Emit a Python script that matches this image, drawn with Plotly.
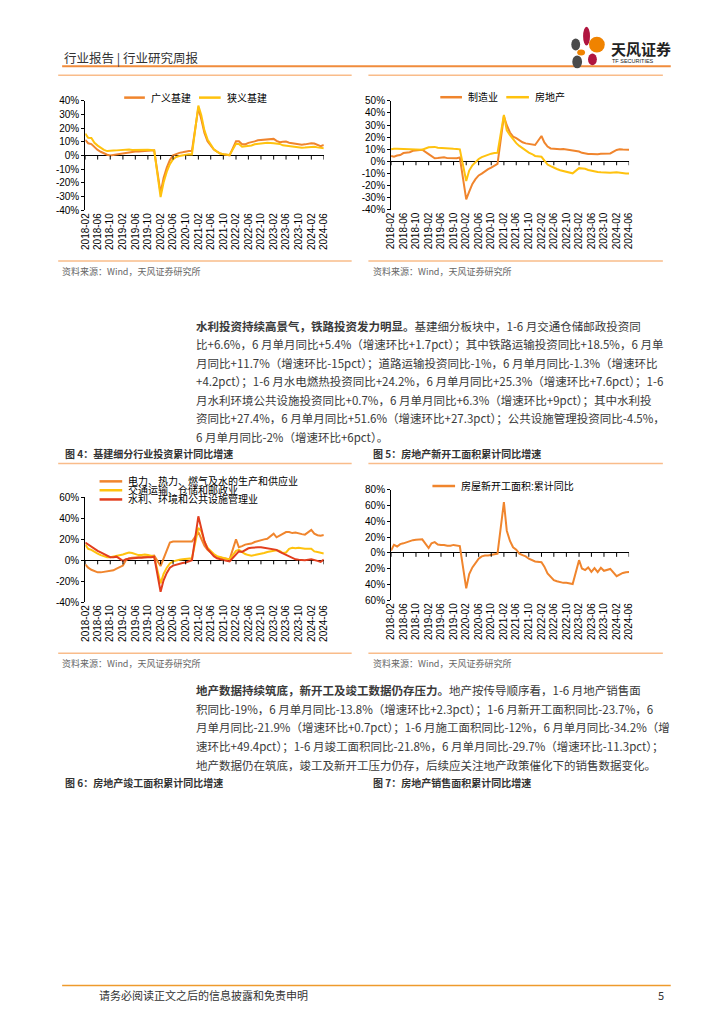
import pandas as pd
import plotly.graph_objects as go

W, H = 724, 1024

# ---------------- data ----------------
months = [d.strftime("%Y-%m-%d") for d in pd.date_range("2018-02-01", "2024-06-01", freq="MS") if d.month != 1]
tick_dates = [d.strftime("%Y-%m-%d") for d in pd.date_range("2018-02-01", "2024-06-01", freq="4MS")]
tick_labels = [d[:7] for d in tick_dates]

# Chart 1: 广义基建 / 狭义基建
broad_infra = ([11.5, 9.0, 8.4, 6.0, 4.1, 2.8, 1.6, 0.6, 0.0, 0.4, 1.0]
               + [1.7, 2.0, 2.2, 2.5, 2.9, 3.0, 3.2, 3.5, 3.9, 3.9, 3.9]
               + [-27.5, -16.4, -8.8, -3.3, 0.1, 1.2, 2.0, 2.4, 3.0, 3.3, 3.4]
               + [35.0, 26.8, 16.6, 10.4, 7.1, 4.4, 2.9, 1.5, 1.0, 0.5, 0.2]
               + [10.5, 10.5, 8.3, 8.2, 9.3, 9.6, 10.4, 11.2, 11.4, 11.6, 11.5]
               + [12.2, 10.8, 9.8, 10.1, 10.2, 9.4, 9.0, 8.6, 8.3, 8.0, 8.2]
               + [9.0, 8.8, 7.8, 6.8, 7.7])
narrow_infra = ([16.1, 13.0, 12.9, 9.4, 7.3, 5.7, 4.2, 3.3, 3.7, 3.7, 3.8]
                + [4.3, 4.4, 4.4, 4.0, 4.1, 3.8, 4.2, 4.5, 4.2, 4.0, 3.8]
                + [-30.3, -19.7, -11.8, -6.3, -2.7, -1.0, -0.3, 0.2, 0.7, 1.0, 0.9]
                + [36.6, 29.7, 18.4, 11.8, 7.8, 4.6, 2.9, 1.5, 1.0, 0.5, 0.4]
                + [8.6, 8.5, 6.5, 6.7, 7.1, 7.4, 8.3, 8.6, 8.7, 8.9, 9.4]
                + [9.0, 8.8, 8.5, 7.5, 7.2, 6.8, 6.4, 6.2, 5.9, 5.8, 5.9]
                + [6.3, 6.5, 6.0, 5.7, 5.4])

# Chart 2: 制造业 / 房地产
manufacturing = ([4.3, 3.8, 4.8, 5.2, 6.8, 7.3, 7.5, 8.7, 9.1, 9.5, 9.5]
                 + [5.9, 4.6, 2.5, 2.7, 3.0, 3.3, 2.6, 2.5, 2.6, 2.5, 3.1]
                 + [-31.5, -25.2, -18.8, -14.8, -11.7, -10.2, -8.1, -6.5, -5.3, -3.5, -2.2]
                 + [37.3, 29.8, 23.8, 20.4, 19.2, 17.3, 15.7, 14.8, 14.2, 13.7, 13.5]
                 + [20.9, 15.6, 12.2, 10.6, 10.4, 9.9, 10.0, 10.1, 9.7, 9.3, 9.1]
                 + [8.1, 7.0, 6.4, 6.0, 6.0, 5.7, 5.9, 6.2, 6.2, 6.3, 6.5]
                 + [9.4, 9.9, 9.7, 9.6, 9.5])
real_estate = ([9.9, 10.4, 10.3, 10.2, 9.7, 10.2, 10.1, 9.9, 9.7, 9.7, 9.5]
               + [11.6, 11.8, 11.9, 11.2, 10.9, 10.6, 10.5, 10.5, 10.3, 10.2, 9.9]
               + [-16.3, -7.7, -3.3, -0.3, 1.9, 3.4, 4.6, 5.6, 6.3, 6.8, 7.0]
               + [38.3, 25.6, 21.6, 18.3, 15.0, 12.7, 10.9, 8.8, 7.2, 6.0, 4.4]
               + [3.7, 0.7, -2.7, -4.0, -5.4, -6.4, -7.4, -8.0, -8.8, -9.8, -10.0]
               + [-5.7, -5.8, -6.2, -7.2, -7.9, -8.5, -8.8, -9.1, -9.3, -9.4, -9.6]
               + [-9.0, -9.5, -9.8, -10.1, -10.1])

# Chart 3: 基建细分行业
power_utilities = ([-4.0, -7.0, -9.0, -10.5, -11.5, -11.5, -11.0, -10.5, -10.0, -9.5, -8.0]
                   + [-5.0, 0.0, 2.0, 2.5, 3.0, 3.0, 3.0, 3.5, 3.5, 4.0, 4.5]
                   + [-5.5, 2.0, 10.0, 17.0, 18.0, 18.0, 18.5, 18.0, 18.0, 18.0, 18.0]
                   + [27.0, 20.0, 14.0, 10.0, 7.0, 5.0, 3.5, 2.5, 2.0, 1.5, 1.0]
                   + [20.0, 12.5, 13.5, 15.0, 15.5, 16.0, 17.5, 18.5, 19.5, 20.0, 20.5]
                   + [25.5, 22.0, 23.5, 25.0, 27.0, 27.0, 26.0, 26.5, 25.5, 25.0, 24.5]
                   + [29.0, 25.5, 24.0, 23.5, 24.2])
transport = ([15.0, 11.0, 10.0, 8.0, 6.5, 5.0, 4.0, 3.0, 3.0, 3.5, 4.0]
             + [5.5, 6.5, 7.5, 7.0, 6.0, 5.0, 5.0, 5.5, 5.0, 4.5, 3.5]
             + [-22.0, -13.0, -7.0, -3.0, -1.0, 0.0, 0.5, 1.0, 1.5, 2.0, 2.0]
             + [31.0, 28.0, 18.0, 12.0, 9.0, 6.0, 4.0, 3.0, 2.0, 1.5, 1.0]
             + [9.0, 10.0, 8.0, 6.0, 5.0, 4.5, 5.0, 5.5, 6.0, 7.0, 8.0]
             + [9.0, 9.5, 9.0, 7.0, 7.5, 11.0, 12.0, 11.5, 12.0, 11.5, 11.0]
             + [11.0, 8.5, 8.0, 7.5, 6.6])
water_env = ([17.0, 15.0, 13.0, 11.0, 9.0, 7.5, 6.0, 4.5, 3.0, 3.0, 3.5]
             + [-0.5, 1.0, 1.5, 2.0, 2.0, 2.5, 2.5, 3.0, 3.0, 3.0, 3.5]
             + [-30.0, -19.0, -12.0, -7.0, -5.0, -4.0, -3.0, -2.5, -2.0, -1.0, 0.0]
             + [42.0, 30.0, 18.0, 11.0, 7.0, 4.0, 2.0, 1.0, 0.0, -0.5, -1.0]
             + [5.0, 8.5, 8.0, 10.0, 11.5, 12.0, 12.5, 12.5, 12.5, 12.0, 11.5]
             + [10.0, 10.0, 8.0, 6.5, 5.0, 3.5, 2.0, 1.0, 0.5, 0.0, 0.0]
             + [1.0, 0.5, -0.5, -1.5, 0.7])

# Chart 4: 房屋新开工面积:累计同比
new_starts = ([3.0, 10.0, 8.0, 11.0, 12.0, 13.5, 14.5, 16.0, 16.5, 16.8, 17.0]
              + [6.0, 12.0, 13.5, 10.5, 10.0, 10.0, 9.0, 9.0, 10.0, 9.0, 8.5]
              + [-45.0, -27.0, -18.5, -12.5, -7.5, -4.5, -3.5, -3.5, -2.5, -2.0, -1.0]
              + [64.0, 28.0, 15.0, 7.0, 4.0, -1.0, -3.0, -4.5, -7.5, -9.0, -11.0]
              + [-12.0, -17.5, -26.0, -30.5, -34.5, -36.0, -37.0, -38.0, -37.8, -38.9, -39.4]
              + [-9.3, -19.8, -21.9, -18.5, -24.0, -19.4, -24.4, -19.0, -22.7, -21.9, -20.4]
              + [-29.5, -27.5, -25.5, -24.5, -24.4])

y1_ticks = [-40, -30, -20, -10, 0, 10, 20, 30, 40]
y2_ticks = [-40, -30, -20, -10, 0, 10, 20, 30, 40, 50]
y3_ticks = [-40, -20, 0, 20, 40, 60]
y4_ticks = [-60, -40, -20, 0, 20, 40, 60, 80]

para1 = [
    "<b>水利投资持续高景气，铁路投资发力明显。</b>基建细分板块中，1-6 月交通仓储邮政投资同",
    "比+6.6%，6 月单月同比+5.4%（增速环比+1.7pct）；其中铁路运输投资同比+18.5%，6 月单",
    "月同比+11.7%（增速环比-15pct）；道路运输投资同比-1%，6 月单月同比-1.3%（增速环比",
    "+4.2pct）；1-6 月水电燃热投资同比+24.2%，6 月单月同比+25.3%（增速环比+7.6pct）；1-6",
    "月水利环境公共设施投资同比+0.7%，6 月单月同比+6.3%（增速环比+9pct）；其中水利投",
    "资同比+27.4%，6 月单月同比+51.6%（增速环比+27.3pct）；公共设施管理投资同比-4.5%，",
    "6 月单月同比-2%（增速环比+6pct）。",
]
para2 = [
    "<b>地产数据持续筑底，新开工及竣工数据仍存压力。</b>地产按传导顺序看，1-6 月地产销售面",
    "积同比-19%，6 月单月同比-13.8%（增速环比+2.3pct）；1-6 月新开工面积同比-23.7%，6",
    "月单月同比-21.9%（增速环比+0.7pct）；1-6 月施工面积同比-12%，6 月单月同比-34.2%（增",
    "速环比+49.4pct）；1-6 月竣工面积同比-21.8%，6 月单月同比-29.7%（增速环比-11.3pct）；",
    "地产数据仍在筑底，竣工及新开工压力仍存，后续应关注地产政策催化下的销售数据变化。",
]

# ---------------- styling ----------------
ORANGE = "#F0852D"
YELLOW = "#FFC20E"
RED = "#E23E1E"
CHART_FONT = "Liberation Sans, Noto Sans CJK SC"
TEXT_FONT = "Noto Sans CJK SC"


def px(x):
    return x / W


def py(y):
    return 1 - y / H


charts = [
    dict(x0=80.5, x1=322.7, top=96.0, bot=206.7, yr=[-40, 40], ticks=y1_ticks, neg_sign=True,
         series=[(broad_infra, ORANGE), (narrow_infra, YELLOW)]),
    dict(x0=391.0, x1=632.7, top=96.0, bot=206.0, yr=[-40, 50], ticks=y2_ticks, neg_sign=True,
         series=[(manufacturing, ORANGE), (real_estate, YELLOW)]),
    dict(x0=80.5, x1=322.7, top=497.3, bot=603.3, yr=[-40, 60], ticks=y3_ticks, neg_sign=True,
         series=[(power_utilities, ORANGE), (transport, YELLOW), (water_env, RED)]),
    dict(x0=391.0, x1=632.7, top=489.3, bot=601.3, yr=[-60, 80], ticks=y4_ticks, neg_sign=False,
         series=[(new_starts, ORANGE)]),
]

fig = go.Figure()
layout = dict(width=W, height=H, margin=dict(l=0, r=0, t=0, b=0), autosize=False,
              paper_bgcolor="white", plot_bgcolor="rgba(0,0,0,0)", showlegend=False,
              font=dict(family=CHART_FONT, color="#000"))
shapes = []
annotations = []

for i, c in enumerate(charts, 1):
    xa = "x" if i == 1 else f"x{i}"
    ya = "y" if i == 1 else f"y{i}"
    xkey = "xaxis" if i == 1 else f"xaxis{i}"
    ykey = "yaxis" if i == 1 else f"yaxis{i}"
    for vals, col in c["series"]:
        fig.add_trace(go.Scatter(x=months, y=vals, xaxis=xa, yaxis=ya, mode="lines",
                                 line=dict(color=col, width=2), hoverinfo="skip"))
    ttext = [f"{v}%" if (c["neg_sign"] or v >= 0) else f"{-v}%" for v in c["ticks"]]
    layout[xkey] = dict(domain=[px(c["x0"]), px(c["x1"])], anchor=ya, type="date",
                        range=[months[0], months[-1]], tickvals=tick_dates, ticktext=tick_labels,
                        tickangle=-90, showgrid=False, showline=False, ticks="", zeroline=False,
                        tickfont=dict(size=10, family=CHART_FONT, color="#000"))
    layout[ykey] = dict(domain=[py(c["bot"]), py(c["top"])], anchor=xa, range=c["yr"],
                        tickvals=c["ticks"], ticktext=ttext, showgrid=False, showline=True,
                        linecolor="#000", linewidth=1, ticks="outside", ticklen=3, tickcolor="#000",
                        zeroline=True, zerolinecolor="#000", zerolinewidth=1,
                        tickfont=dict(size=10, family=CHART_FONT, color="#000"))
    for t in tick_dates:
        shapes.append(dict(type="line", xref=xa, yref=ya, ysizemode="pixel", yanchor=0,
                           x0=t, x1=t, y0=0, y1=-4, line=dict(color="#000", width=1)))


def hline(x0, x1, y, color, width):
    shapes.append(dict(type="line", xref="paper", yref="paper", x0=px(x0), x1=px(x1),
                       y0=py(y), y1=py(y), line=dict(color=color, width=width)))


def text(x, y, s, size, color="#333", family=TEXT_FONT, anchor="left"):
    annotations.append(dict(x=px(x), y=py(y), xref="paper", yref="paper", text=s, showarrow=False,
                            xanchor=anchor, yanchor="middle", align="left",
                            font=dict(size=size, color=color, family=family)))


def legend_item(x0, x1, y, color, label):
    hline(x0, x1, y, color, 2.5)
    text(x1 + 4, y, label, 10, "#000", CHART_FONT)


# header
text(57, 52, "行业报告 | 行业研究周报", 12.5, "#333")
hline(57, 675, 61, "#F08C3C", 2)
# logo
petals = [
    (586, 593, 21, 40, "#B0153F"),
    (592, 608, 31, 47, "#F08300"),
    (574, 583, 33, 45, "#4A4A4A"),
    (580, 588, 44, 50, "#F08300"),
    (575, 585, 50, 63, "#4A4A4A"),
    (591, 600, 48, 60, "#B0153F"),
]
for x0, x1, y0, y1, col in petals:
    shapes.append(dict(type="circle", xref="paper", yref="paper", x0=px(x0), x1=px(x1),
                       y0=py(y1), y1=py(y0), fillcolor=col, line=dict(width=0)))
text(612, 43, "<b>天风证券</b>", 15, "#222")
text(613, 56, "TF SECURITIES", 5.5, "#222", "Liberation Sans")

# top charts frame lines
hline(53, 351, 70, "#F9BC8A", 1.5)
hline(368, 667, 70, "#F9BC8A", 1.5)

# legends
legend_item(120, 141, 92.7, ORANGE, "广义基建")
legend_item(196, 218, 92.7, YELLOW, "狭义基建")
legend_item(441, 463, 92.3, ORANGE, "制造业")
legend_item(508, 531, 92.3, YELLOW, "房地产")
legend_item(95, 118, 481.0, ORANGE, "电力、热力、燃气及水的生产和供应业")
legend_item(95, 118, 490.0, YELLOW, "交通运输、仓储和邮政业")
legend_item(95, 118, 499.3, RED, "水利、环境和公共设施管理业")
legend_item(433, 456, 485.7, ORANGE, "房屋新开工面积:累计同比")

# source lines
src = "资料来源：Wind，天风证券研究所"
hline(53, 351, 258, "#F9BC8A", 1.5)
hline(368, 667, 258, "#F9BC8A", 1.5)
text(55, 269, src, 9, "#666")
text(371, 269, src, 9, "#666")

# paragraph 1
for k, line in enumerate(para1):
    text(191, 323.3 + 18.8 * k, line, 11.5, "#3a3a3a")

# figure 4/5 titles
text(58, 453.3, "<b>图 4：基建细分行业投资累计同比增速</b>", 10, "#333")
text(371, 453.3, "<b>图 5：房地产新开工面积累计同比增速</b>", 10, "#333")
hline(53, 351, 463, "#F9BC8A", 1.5)
hline(368, 667, 463, "#F9BC8A", 1.5)

hline(53, 351, 655, "#F9BC8A", 1.5)
hline(368, 667, 655, "#F9BC8A", 1.5)
text(55, 665, src, 9, "#666")
text(371, 665, src, 9, "#666")

# paragraph 2
for k, line in enumerate(para2):
    text(191, 692.3 + 18.8 * k, line, 11.5, "#3a3a3a")

text(58, 786, "<b>图 6：房地产竣工面积累计同比增速</b>", 10, "#333")
text(371, 786, "<b>图 7：房地产销售面积累计同比增速</b>", 10, "#333")

# footer
hline(57, 675, 991, "#EE9A2C", 1.5)
text(92, 1001, "请务必阅读正文之后的信息披露和免责申明", 11, "#333")
text(670, 1001, "5", 11, "#333", anchor="right")

layout["shapes"] = shapes
layout["annotations"] = annotations
fig.update_layout(**layout)
fig.write_html("out.html", config={"displayModeBar": False},
               post_script="document.body.style.margin='0';document.body.style.padding='0';")
